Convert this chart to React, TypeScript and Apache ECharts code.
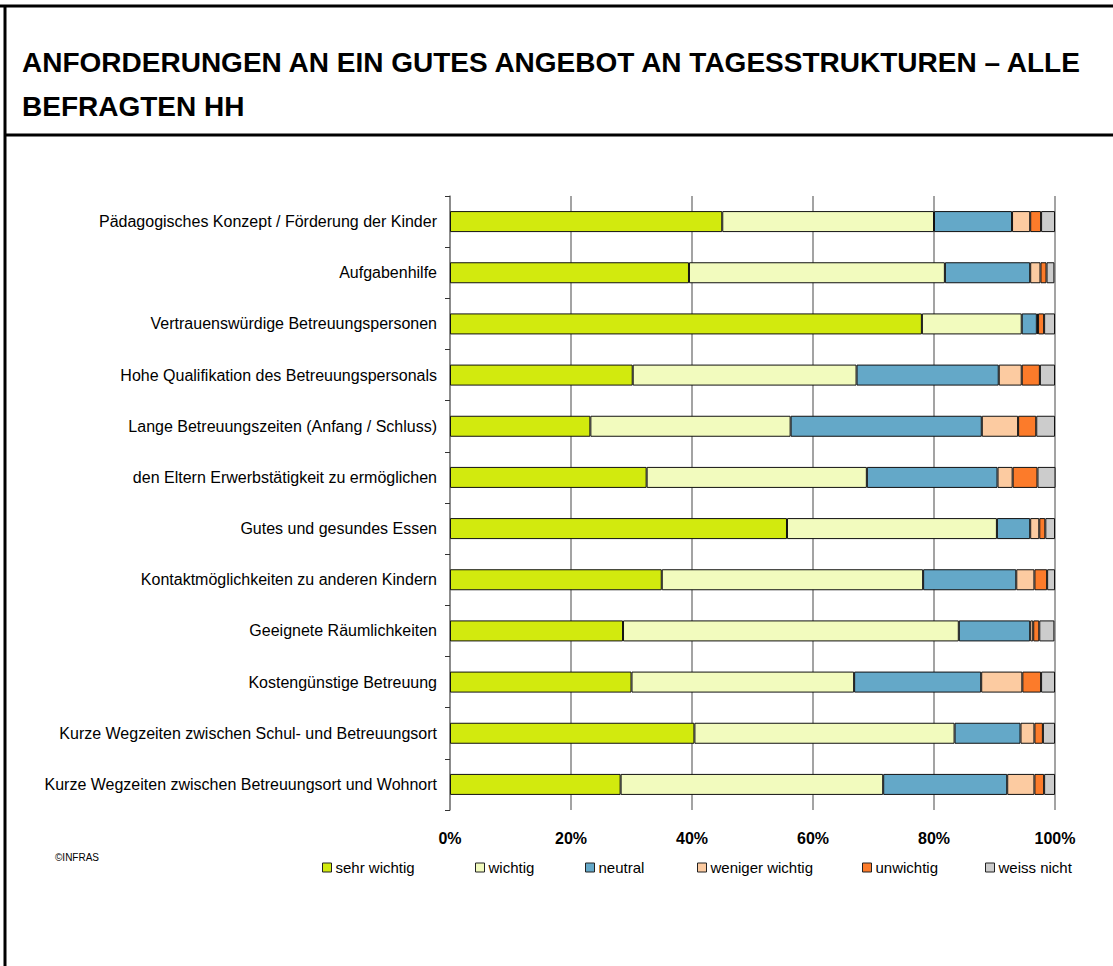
import React, { useEffect, useRef } from "react";
import * as echarts from "echarts";

const categories = [
  "Pädagogisches Konzept / Förderung der Kinder",
  "Aufgabenhilfe",
  "Vertrauenswürdige Betreuungspersonen",
  "Hohe Qualifikation des Betreuungspersonals",
  "Lange Betreuungszeiten (Anfang / Schluss)",
  "den Eltern Erwerbstätigkeit zu ermöglichen",
  "Gutes und gesundes Essen",
  "Kontaktmöglichkeiten zu anderen Kindern",
  "Geeignete Räumlichkeiten",
  "Kostengünstige Betreuung",
  "Kurze Wegzeiten zwischen Schul- und Betreuungsort",
  "Kurze Wegzeiten zwischen Betreuungsort und Wohnort",
];

const seriesNames = ["sehr wichtig", "wichtig", "neutral", "weniger wichtig", "unwichtig", "weiss nicht"];

const sehrWichtig = [45.0, 39.5, 78.0, 30.2, 23.2, 32.5, 55.7, 35.0, 28.6, 30.0, 40.4, 28.2];
const wichtig = [35.0, 42.3, 16.5, 37.0, 33.1, 36.4, 34.7, 43.2, 55.5, 36.8, 43.0, 43.4];
const neutral = [12.9, 14.1, 2.5, 23.5, 31.6, 21.6, 5.5, 15.4, 11.8, 21.0, 10.9, 20.5];
const wenigerWichtig = [3.0, 1.7, 0.2, 3.8, 6.0, 2.5, 1.5, 3.0, 0.5, 6.8, 2.3, 4.5];
const unwichtig = [1.8, 1.0, 1.0, 3.0, 3.0, 4.1, 1.0, 2.1, 1.0, 3.1, 1.4, 1.6];
const weissNicht = [2.3, 1.3, 1.8, 2.5, 3.1, 3.0, 1.6, 1.3, 2.5, 2.3, 2.0, 1.8];

const seriesValues = [sehrWichtig, wichtig, neutral, wenigerWichtig, unwichtig, weissNicht];
const colors = ["#D2EA0E", "#F2FBBE", "#64A8C8", "#FCCBA1", "#FC7B2A", "#CCCCCC"];

const titleLines = ["ANFORDERUNGEN AN EIN GUTES ANGEBOT AN TAGESSTRUKTUREN – ALLE", "BEFRAGTEN HH"];
const xTicks = [0, 20, 40, 60, 80, 100];
const legendLefts = [322, 475, 585, 697, 862, 985];

export default function App() {
  const ref = useRef<HTMLDivElement>(null);
  useEffect(() => {
    if (!ref.current) return;
    const chart = echarts.init(ref.current, undefined, { renderer: "svg" });
    const font = "'Liberation Sans', Arial, sans-serif";
    const option: any = {
      animation: false,
      backgroundColor: "#ffffff",
      textStyle: { fontFamily: font },
      grid: { left: 450, right: 58, top: 196, bottom: 156, containLabel: false },
      xAxis: {
        type: "value",
        min: xTicks[0],
        max: xTicks[xTicks.length - 1],
        interval: 20,
        axisLine: { show: false },
        axisTick: { show: false },
        splitLine: { show: true, lineStyle: { color: "#858585", width: 1.5 } },
        axisLabel: {
          formatter: "{value}%",
          color: "#000",
          fontWeight: "bold",
          fontSize: 16,
          fontFamily: font,
          margin: 20,
        },
      },
      yAxis: {
        type: "category",
        inverse: true,
        data: categories,
        axisLine: { show: true, lineStyle: { color: "#858585", width: 1.5 } },
        axisTick: { show: true, length: 5, lineStyle: { color: "#333", width: 1 } },
        axisLabel: { color: "#000", fontSize: 16, fontFamily: font, margin: 13 },
      },
      legend: seriesNames.map((n, i) => ({
        data: [n],
        left: legendLefts[i],
        top: 860,
        padding: 0,
        itemWidth: 9,
        itemHeight: 9,
        itemGap: 0,
        icon: "rect",
        textStyle: { color: "#000", fontSize: 15, fontFamily: font, padding: [0, 0, 0, -1] },
        itemStyle: { borderColor: "#222", borderWidth: 1 },
      })),
      series: seriesNames.map((n, i) => ({
        name: n,
        type: "bar",
        stack: "total",
        barWidth: 21,
        data: seriesValues[i],
        itemStyle: { color: colors[i], borderColor: "#111", borderWidth: 1 },
      })),
      graphic: [
        { type: "line", shape: { x1: 0, y1: 6, x2: 1113, y2: 6 }, style: { stroke: "#000", lineWidth: 3 } },
        { type: "line", shape: { x1: 5, y1: 5, x2: 5, y2: 966 }, style: { stroke: "#000", lineWidth: 3 } },
        { type: "line", shape: { x1: 5, y1: 135, x2: 1113, y2: 135 }, style: { stroke: "#000", lineWidth: 3 } },
        {
          type: "text",
          x: 22,
          y: 62,
          style: { text: titleLines[0], font: `bold 28px ${font}`, fill: "#000", textVerticalAlign: "middle" },
        },
        {
          type: "text",
          x: 22,
          y: 106,
          style: { text: titleLines[1], font: `bold 28px ${font}`, fill: "#000", textVerticalAlign: "middle" },
        },
        {
          type: "text",
          x: 55,
          y: 857,
          style: { text: "©INFRAS", font: `10px ${font}`, fill: "#000", textVerticalAlign: "middle" },
        },
      ],
    };
    chart.setOption(option);
    return () => chart.dispose();
  }, []);
  return <div ref={ref} style={{ position: "fixed", left: 0, top: 0, width: 1113, height: 966 }} />;
}
